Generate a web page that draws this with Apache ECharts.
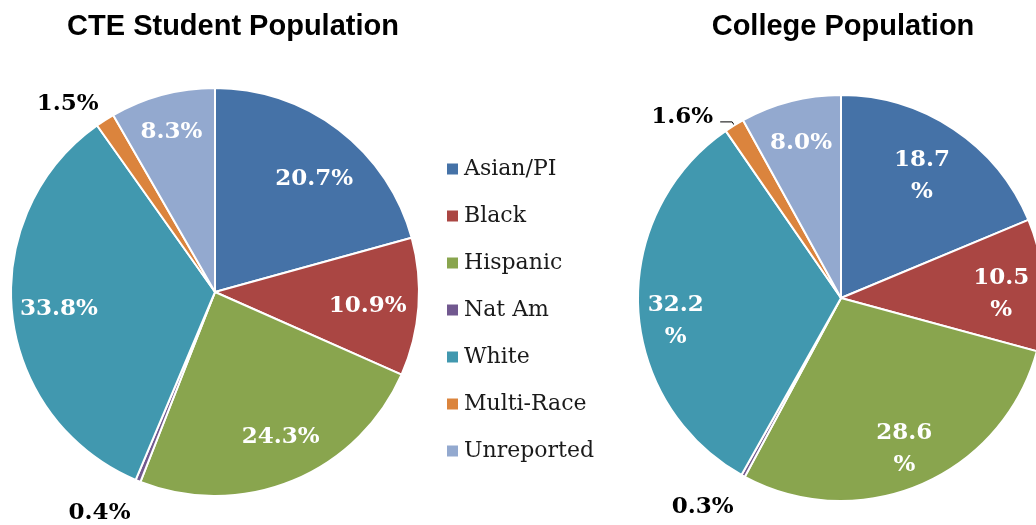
<!DOCTYPE html>
<html>
<head>
<meta charset="utf-8">
<title>CTE vs College Population</title>
<script src="https://cdn.jsdelivr.net/npm/echarts@6/dist/echarts.min.js"></script>
<style>
	html, body { margin: 0; padding: 0; background: #ffffff; }
	#chart { width: 1036px; height: 525px; }
</style>
</head>
<body>
<div id="chart"></div>
<script>
	// categories + values (percent)
	var groups = ['Asian/PI', 'Black', 'Hispanic', 'Nat Am', 'White', 'Multi-Race', 'Unreported'];
	var cteValues = [20.7, 10.9, 24.3, 0.4, 33.8, 1.5, 8.3];
	var collegeValues = [18.7, 10.5, 28.6, 0.3, 32.2, 1.6, 8.0];
	var colors = ['#4572A7', '#AA4643', '#89A54E', '#71588F', '#4198AF', '#DB843D', '#93A9CF'];
	var titles = ['CTE Student Population', 'College Population'];

	var serif = '"DejaVu Serif", serif';

	// small label nudges (Excel "best fit" isn't exactly mid-angle)
	// key: seriesIndex-dataIndex -> [dx, dy]
	var nudge = {
		'0-3': [12, 6], '0-5': [8, -4],
		'1-0': [4, 12], '1-1': [-4, 2], '1-2': [6, 0], '1-6': [-3, -8],
		'2-3': [13, 7], '2-5': [-2, -5],
		'3-0': [-8, 12], '3-1': [0, 6], '3-2': [0, 4], '3-4': [-5, 16]
	};

	// slices too thin for an inside label get a black label outside
	function isSmall(v) {
		return v < 2;
	}

	// main visible pie, only outside labels for the tiny slices
	function mainData(values, lineLens) {
		return groups.map(function(name, i) {
			var small = isSmall(values[i]);
			return {
				name: name,
				value: values[i],
				label: {
					show: small,
					position: 'outside',
					formatter: values[i].toFixed(1) + '%',
					color: '#000',
					fontFamily: serif,
					fontWeight: 'bold',
					fontSize: 23
				},
				labelLine: small ? lineLens[i] : { show: false }
			};
		});
	}

	// transparent ring on top, used only to put inside labels further out
	function ringData(values, wrap) {
		return groups.map(function(name, i) {
			return {
				name: name,
				value: values[i],
				label: {
					show: !isSmall(values[i]),
					formatter: (wrap && values[i] >= 10) ? values[i].toFixed(1) + '\n%' : values[i].toFixed(1) + '%'
				}
			};
		});
	}

	function labelNudge(params) {
		var n = nudge[params.seriesIndex + '-' + params.dataIndex];
		return n ? { dx: n[0], dy: n[1] } : {};
	}

	var chart = echarts.init(document.getElementById('chart'));

	var mainBase = {
		type: 'pie',
		startAngle: 90,
		clockwise: true,
		avoidLabelOverlap: false,
		itemStyle: { borderColor: '#ffffff', borderWidth: 2 },
		labelLayout: labelNudge,
		emphasis: { disabled: true },
		animation: false
	};
	var ringBase = {
		type: 'pie',
		startAngle: 90,
		clockwise: true,
		silent: true,
		avoidLabelOverlap: false,
		itemStyle: { color: 'rgba(0,0,0,0)', borderWidth: 0 },
		label: {
			position: 'inside',
			color: '#ffffff',
			fontFamily: serif,
			fontWeight: 'bold',
			fontSize: 23,
			lineHeight: 32
		},
		labelLine: { show: false },
		labelLayout: labelNudge,
		emphasis: { disabled: true },
		animation: false
	};

	var titleStyle = { fontFamily: '"Liberation Sans", Arial, sans-serif', fontWeight: 'bold', fontSize: 29, color: '#000' };

	var option = {
		color: colors,
		title: [{
			text: titles[0],
			left: 228,
			top: 7,
			textAlign: 'center',
			textStyle: titleStyle
		}, {
			text: titles[1],
			left: 838,
			top: 7,
			textAlign: 'center',
			textStyle: titleStyle
		}],
		legend: {
			orient: 'vertical',
			left: 445,
			top: 158,
			padding: 0,
			itemWidth: 13,
			itemHeight: 13,
			itemGap: 25,
			icon: 'rect',
			data: groups,
			textStyle: { fontFamily: serif, fontSize: 22, color: '#1a1a1a', lineHeight: 22 }
		},
		series: [
			Object.assign({}, mainBase, {
				name: titles[0],
				center: [215, 292],
				radius: [0, 204],
				data: mainData(cteValues, {
					3: { show: false, length: 28, length2: 4 },
					5: { show: false, length: 14, length2: 2 }
				})
			}),
			Object.assign({}, ringBase, {
				name: titles[0] + ' labels',
				center: [215, 292],
				radius: [104, 204],
				data: ringData(cteValues, false)
			}),
			Object.assign({}, mainBase, {
				name: titles[1],
				center: [841, 298],
				radius: [0, 203],
				data: mainData(collegeValues, {
					3: { show: false, length: 28, length2: 4 },
					5: { show: true, length: 4, length2: 12, lineStyle: { color: '#000', width: 1 } }
				})
			}),
			Object.assign({}, ringBase, {
				name: titles[1] + ' labels',
				center: [841, 298],
				radius: [112, 203],
				data: ringData(collegeValues, true)
			})
		]
	};

	chart.setOption(option);
</script>
</body>
</html>
